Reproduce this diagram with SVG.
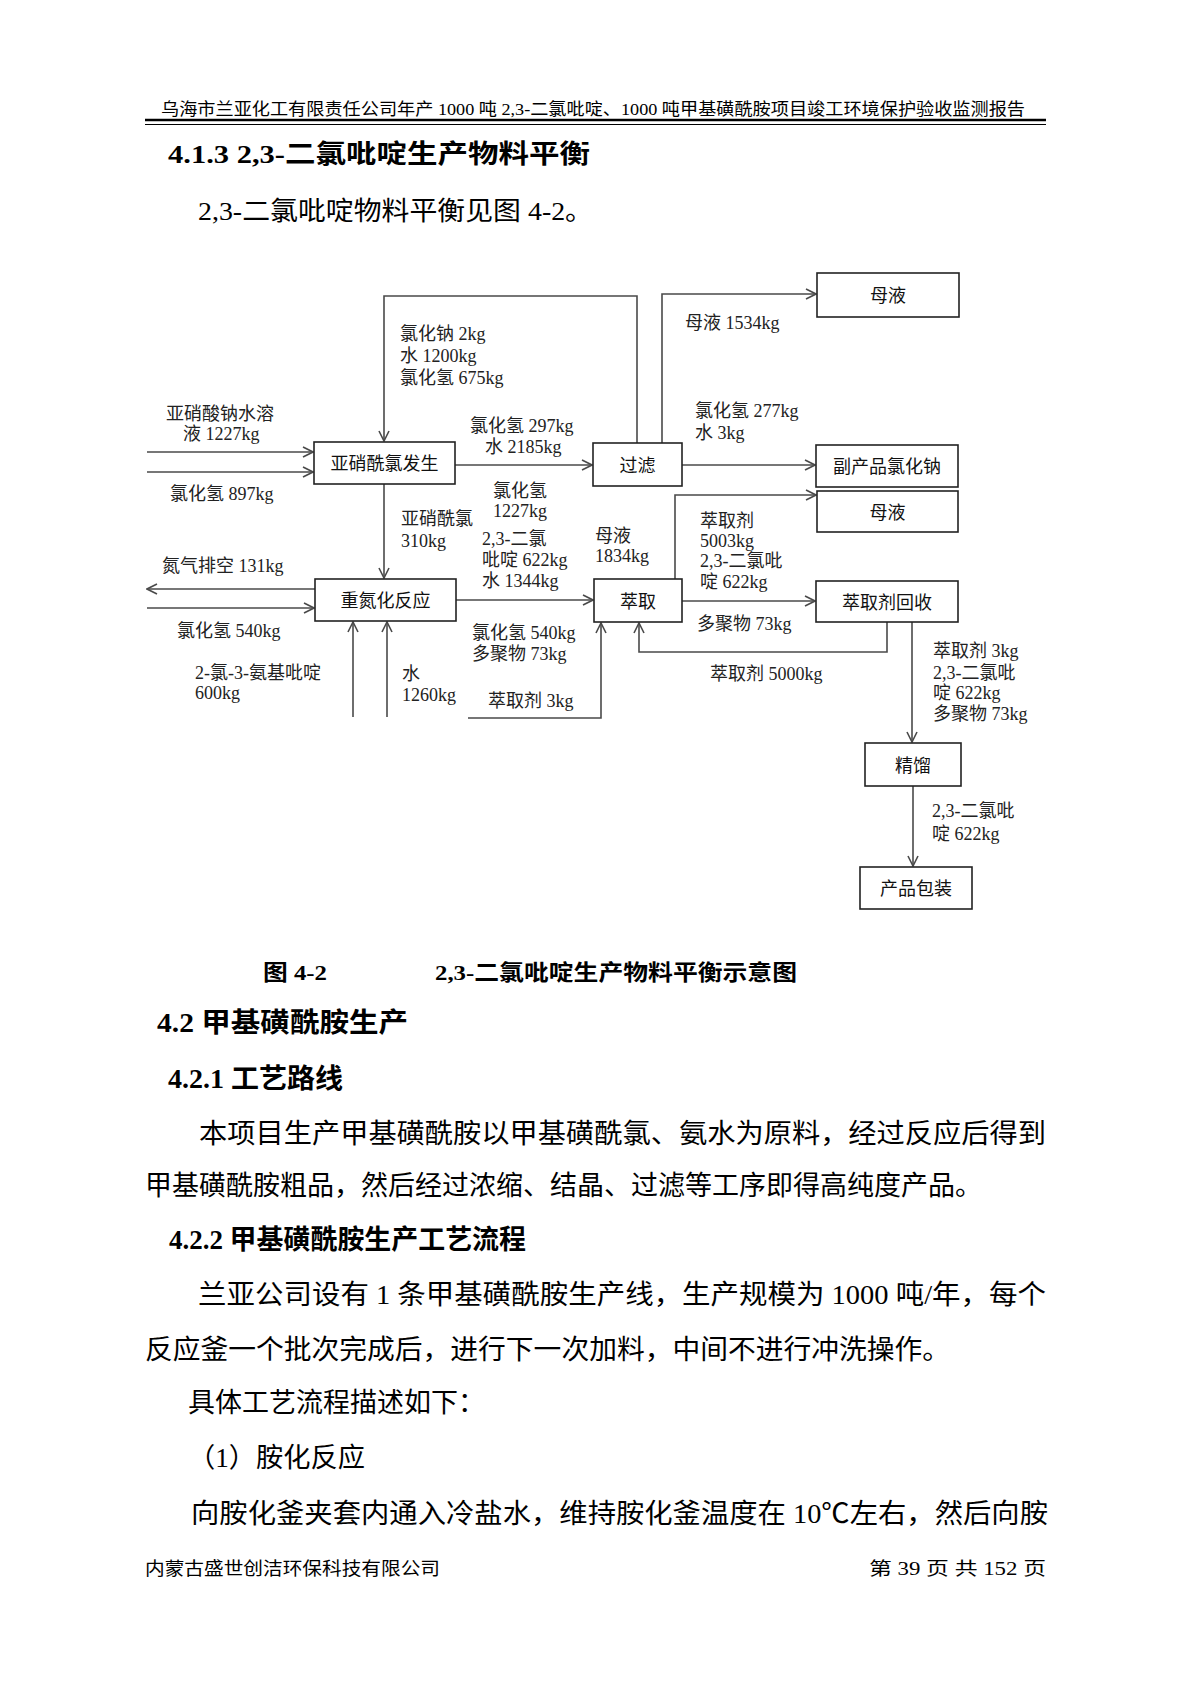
<svg xmlns="http://www.w3.org/2000/svg" width="1190" height="1683" viewBox="0 0 1190 1683">
<style>
.pg{font-family:"Liberation Serif","Noto Sans CJK SC",serif;fill:#000}
.b{font-weight:bold}
.lbl{font-family:"Liberation Serif","Noto Sans CJK SC",sans-serif;font-size:18px;fill:#222}
.nt{font-family:"Noto Sans CJK SC",sans-serif;font-size:18px;fill:#111;text-anchor:middle}
.box{fill:#fff;stroke:#222;stroke-width:1.6}
.cn{fill:none;stroke:#4a4a4a;stroke-width:1.6;marker-end:url(#ah)}
</style>
<defs>
<marker id="ah" viewBox="0 0 12 12" refX="11" refY="6" markerWidth="12" markerHeight="12" markerUnits="userSpaceOnUse" orient="auto">
<path d="M1,1 L11,6 L1,11" fill="none" stroke="#4a4a4a" stroke-width="1.6"/>
</marker>
</defs>
<rect width="1190" height="1683" fill="#fff"/>

<!-- page header -->
<text class="pg" x="161" y="115" font-size="17" textLength="864" lengthAdjust="spacingAndGlyphs">乌海市兰亚化工有限责任公司年产 1000 吨 2,3-二氯吡啶、1000 吨甲基磺酰胺项目竣工环境保护验收监测报告</text>
<line x1="145" y1="120" x2="1046" y2="120" stroke="#000" stroke-width="2.5"/>
<line x1="145" y1="124.5" x2="1046" y2="124.5" stroke="#000" stroke-width="1"/>

<text class="pg b" x="168" y="163" font-size="26" textLength="422" lengthAdjust="spacingAndGlyphs">4.1.3 2,3-二氯吡啶生产物料平衡</text>
<text class="pg" x="198" y="220" font-size="26" textLength="395" lengthAdjust="spacingAndGlyphs">2,3-二氯吡啶物料平衡见图 4-2。</text>

<!-- connectors -->
<g id="connectors">
<path class="cn" d="M147,452 H313"/>
<path class="cn" d="M147,472 H313"/>
<path class="cn" d="M455,465 H592"/>
<path class="cn" d="M637,443 V296 H384 V441"/>
<path class="cn" d="M662,443 V294 H816"/>
<path class="cn" d="M682,465 H815"/>
<path class="cn" d="M384,484 V578"/>
<path class="cn" d="M315,589 H147"/>
<path class="cn" d="M147,608 H314"/>
<path class="cn" d="M353,717 V622"/>
<path class="cn" d="M387,717 V622"/>
<path class="cn" d="M456,600 H593"/>
<path class="cn" d="M468,718 H601 V623"/>
<path class="cn" d="M675,579 V495 H816"/>
<path class="cn" d="M682,601 H815"/>
<path class="cn" d="M887,622 V652 H639 V623"/>
<path class="cn" d="M912,622 V742"/>
<path class="cn" d="M913,786 V866"/>
</g>

<!-- nodes -->
<g id="n-yxxlfs"><rect class="box" x="314" y="442" width="141" height="42"/><text class="nt" x="384.5" y="470">亚硝酰氯发生</text></g>
<g id="n-guolv"><rect class="box" x="593" y="443" width="89" height="43"/><text class="nt" x="637.5" y="471.5">过滤</text></g>
<g id="n-muye1"><rect class="box" x="817" y="273" width="142" height="44"/><text class="nt" x="888" y="302">母液</text></g>
<g id="n-fcp"><rect class="box" x="816" y="445" width="142" height="42"/><text class="nt" x="887" y="473">副产品氯化钠</text></g>
<g id="n-muye2"><rect class="box" x="817" y="491" width="141" height="41"/><text class="nt" x="887.5" y="518.5">母液</text></g>
<g id="n-zdh"><rect class="box" x="315" y="579" width="141" height="42"/><text class="nt" x="385.5" y="607">重氮化反应</text></g>
<g id="n-cq"><rect class="box" x="594" y="579" width="88" height="43"/><text class="nt" x="638" y="607.5">萃取</text></g>
<g id="n-cqjhs"><rect class="box" x="816" y="581" width="142" height="41"/><text class="nt" x="887" y="608.5">萃取剂回收</text></g>
<g id="n-jl"><rect class="box" x="865" y="743" width="96" height="43"/><text class="nt" x="913" y="771.5">精馏</text></g>
<g id="n-cpbz"><rect class="box" x="860" y="867" width="112" height="42"/><text class="nt" x="916" y="895">产品包装</text></g>

<!-- connector labels -->
<g id="labels" class="lbl">
<text x="400" y="340">氯化钠 2kg</text>
<text x="400" y="362">水 1200kg</text>
<text x="400" y="384">氯化氢 675kg</text>
<text x="166" y="420">亚硝酸钠水溶</text>
<text x="183" y="440">液 1227kg</text>
<text x="170" y="500">氯化氢 897kg</text>
<text x="470" y="432">氯化氢 297kg</text>
<text x="485" y="453">水 2185kg</text>
<text x="493" y="497">氯化氢</text>
<text x="493" y="517">1227kg</text>
<text x="482" y="545">2,3-二氯</text>
<text x="482" y="566">吡啶 622kg</text>
<text x="482" y="587">水 1344kg</text>
<text x="401" y="525">亚硝酰氯</text>
<text x="401" y="547">310kg</text>
<text x="162" y="572">氮气排空 131kg</text>
<text x="177" y="637">氯化氢 540kg</text>
<text x="195" y="679">2-氯-3-氨基吡啶</text>
<text x="195" y="699">600kg</text>
<text x="402" y="680">水</text>
<text x="402" y="701">1260kg</text>
<text x="472" y="639">氯化氢 540kg</text>
<text x="472" y="660">多聚物 73kg</text>
<text x="488" y="707">萃取剂 3kg</text>
<text x="685" y="329">母液 1534kg</text>
<text x="695" y="417">氯化氢 277kg</text>
<text x="695" y="439">水 3kg</text>
<text x="595" y="542">母液</text>
<text x="595" y="562">1834kg</text>
<text x="700" y="527">萃取剂</text>
<text x="700" y="547">5003kg</text>
<text x="700" y="567">2,3-二氯吡</text>
<text x="700" y="588">啶 622kg</text>
<text x="697" y="630">多聚物 73kg</text>
<text x="710" y="680">萃取剂 5000kg</text>
<text x="933" y="657">萃取剂 3kg</text>
<text x="933" y="679">2,3-二氯吡</text>
<text x="933" y="699">啶 622kg</text>
<text x="933" y="720">多聚物 73kg</text>
<text x="932" y="817">2,3-二氯吡</text>
<text x="932" y="840">啶 622kg</text>
</g>

<!-- caption and body -->
<text class="pg b" x="263" y="980" font-size="22" textLength="64" lengthAdjust="spacingAndGlyphs">图 4-2</text>
<text class="pg b" x="435" y="980" font-size="22" textLength="362" lengthAdjust="spacingAndGlyphs">2,3-二氯吡啶生产物料平衡示意图</text>
<text class="pg b" x="157" y="1032" font-size="27" textLength="251" lengthAdjust="spacingAndGlyphs">4.2 甲基磺酰胺生产</text>
<text class="pg b" x="168" y="1088" font-size="27" textLength="175" lengthAdjust="spacingAndGlyphs">4.2.1 工艺路线</text>
<text class="pg" x="199" y="1143" font-size="27" textLength="847" lengthAdjust="spacingAndGlyphs">本项目生产甲基磺酰胺以甲基磺酰氯、氨水为原料，经过反应后得到</text>
<text class="pg" x="145" y="1195" font-size="27" textLength="837" lengthAdjust="spacingAndGlyphs">甲基磺酰胺粗品，然后经过浓缩、结晶、过滤等工序即得高纯度产品。</text>
<text class="pg b" x="169" y="1249" font-size="27" textLength="357" lengthAdjust="spacingAndGlyphs">4.2.2 甲基磺酰胺生产工艺流程</text>
<text class="pg" x="198" y="1304" font-size="27" textLength="848" lengthAdjust="spacingAndGlyphs">兰亚公司设有 1 条甲基磺酰胺生产线，生产规模为 1000 吨/年，每个</text>
<text class="pg" x="145" y="1359" font-size="27" textLength="805" lengthAdjust="spacingAndGlyphs">反应釜一个批次完成后，进行下一次加料，中间不进行冲洗操作。</text>
<text class="pg" x="188" y="1412" font-size="27" textLength="297" lengthAdjust="spacingAndGlyphs">具体工艺流程描述如下：</text>
<text class="pg" x="188" y="1467" font-size="27" textLength="177" lengthAdjust="spacingAndGlyphs">（1）胺化反应</text>
<text class="pg" x="191" y="1523" font-size="27" textLength="857" lengthAdjust="spacingAndGlyphs">向胺化釜夹套内通入冷盐水，维持胺化釜温度在 10℃左右，然后向胺</text>
<text class="pg" x="145" y="1575" font-size="18" textLength="295" lengthAdjust="spacingAndGlyphs">内蒙古盛世创洁环保科技有限公司</text>
<text class="pg" x="869" y="1575" font-size="18" textLength="177" lengthAdjust="spacingAndGlyphs">第 39 页 共 152 页</text>
</svg>
